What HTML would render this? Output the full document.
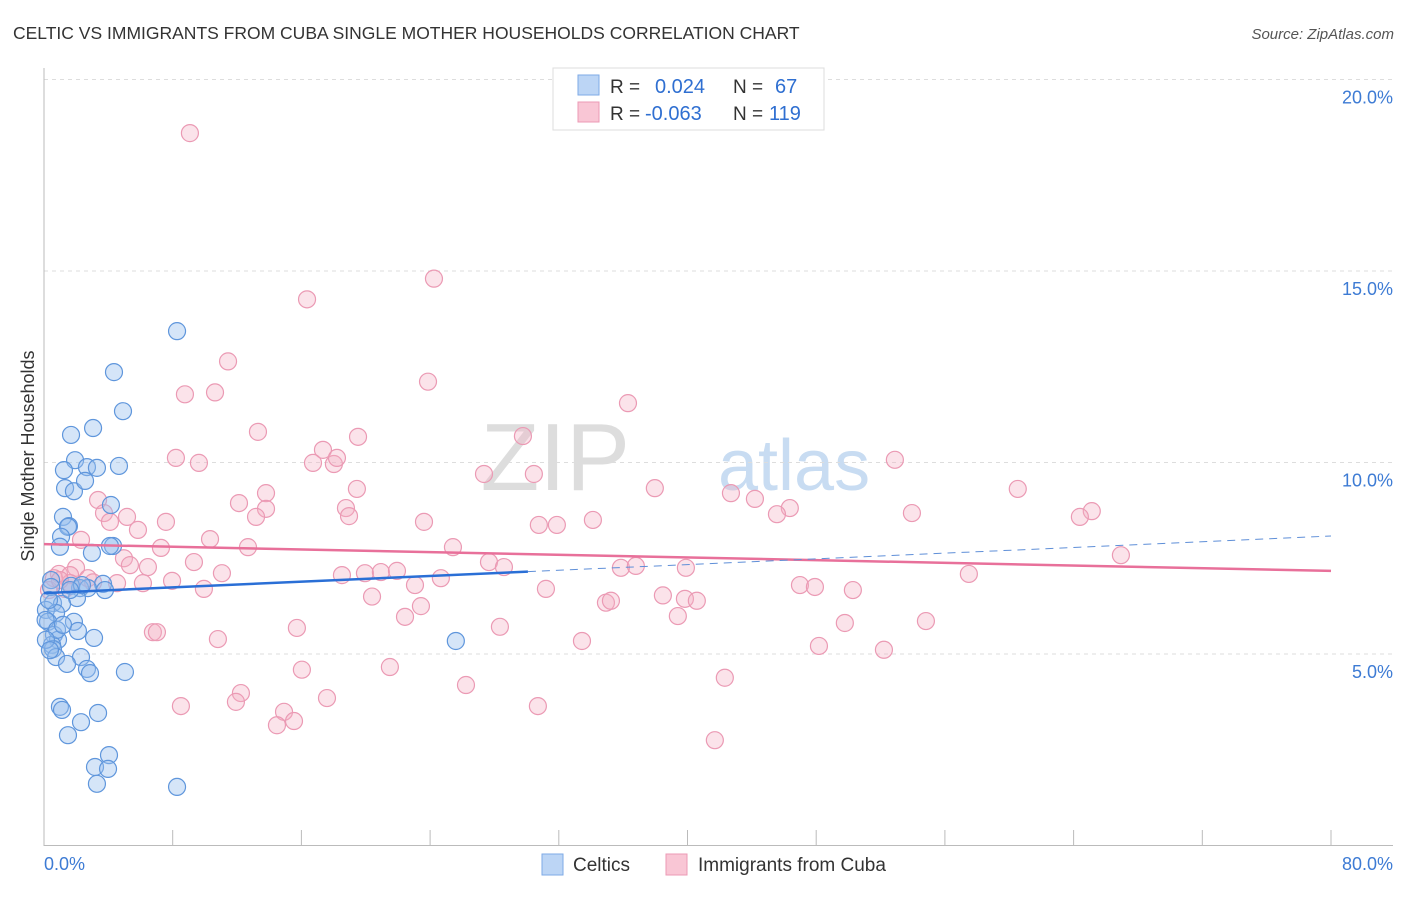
<!DOCTYPE html>
<html><head><meta charset="utf-8"><style>
body{margin:0;background:#fff;font-family:"Liberation Sans",sans-serif;}
svg text{font-family:"Liberation Sans",sans-serif;}
</style></head><body>
<svg id="chart" width="1406" height="892" xmlns="http://www.w3.org/2000/svg">
<text x="13" y="39" font-size="17.5" fill="#333">CELTIC VS IMMIGRANTS FROM CUBA SINGLE MOTHER HOUSEHOLDS CORRELATION CHART</text>
<text x="1394" y="39" font-size="15" fill="#555" font-style="italic" text-anchor="end">Source: ZipAtlas.com</text>
<text x="630" y="490" font-size="96" fill="#ddd" font-family="Liberation Serif" text-anchor="end">ZIP</text>
<text x="718" y="490" font-size="72" fill="#c8dcf2">atlas</text>
<g id="grid"></g>
<g id="axes"></g>
<g id="pts"></g>
<g id="trend"></g>
<text transform="translate(34,456) rotate(-90)" font-size="18" fill="#333" text-anchor="middle">Single Mother Households</text>
<g>
<rect x="553" y="68" width="271" height="62" fill="#fff" stroke="#ddd"/>
<rect x="578" y="75" width="21" height="20" fill="#bcd5f5" stroke="#7eaae6"/>
<rect x="578" y="102" width="21" height="20" fill="#f9c6d5" stroke="#ec9ab5"/>
<text x="610" y="93" font-size="19" fill="#333">R =</text><text x="655" y="93" font-size="20" fill="#2f6fd1">0.024</text>
<text x="733" y="93" font-size="19" fill="#333">N =</text><text x="775" y="93" font-size="20" fill="#2f6fd1">67</text>
<text x="610" y="120" font-size="19" fill="#333">R =</text><text x="645" y="120" font-size="20" fill="#2f6fd1">-0.063</text>
<text x="733" y="120" font-size="19" fill="#333">N =</text><text x="769" y="120" font-size="20" fill="#2f6fd1">119</text>
</g>
<g>
<rect x="542" y="854" width="21" height="21" fill="#bcd5f5" stroke="#7eaae6"/>
<text x="573" y="871" font-size="19" fill="#333">Celtics</text>
<rect x="666" y="854" width="21" height="21" fill="#f9c6d5" stroke="#ec9ab5"/>
<text x="698" y="871" font-size="19" fill="#333">Immigrants from Cuba</text>
</g>
</svg>
<script>
const yTicks=[5,10,15,20];
const yTickLabels=["5.0%","10.0%","15.0%","20.0%"];
const xTickLabels=["0.0%","80.0%"];
const celticX=[8.27,4.35,4.91,1.68,3.05,1.93,1.24,2.67,3.29,4.66,1.31,1.86,2.55,4.16,1.18,1.55,1.49,1.06,0.99,4.29,2.98,0.44,3.67,2.24,2.73,1.68,2.05,0.56,1.12,0.12,0.75,0.25,1.86,2.11,0.62,3.11,0.87,0.5,0.56,2.3,0.75,1.43,2.67,2.86,5.03,0.99,1.12,3.36,2.3,1.49,4.04,3.17,3.98,3.29,8.27,25.6,0.44,0.31,0.1,0.81,0.12,4.1,2.36,1.62,3.79,1.18,0.37];
const celticY=[13.43,12.36,11.34,10.72,10.9,10.06,9.8,9.88,9.86,9.91,9.33,9.25,9.52,8.89,8.58,8.34,8.32,8.06,7.8,7.82,7.64,6.93,6.83,6.72,6.72,6.78,6.46,6.33,6.31,6.15,6.07,5.84,5.84,5.6,5.5,5.42,5.37,5.24,5.13,4.92,4.92,4.74,4.61,4.5,4.53,3.62,3.54,3.46,3.22,2.88,2.36,2.05,2.0,1.61,1.53,5.34,6.75,6.41,5.89,5.63,5.37,7.82,6.8,6.67,6.67,5.76,5.1];
const cubaX=[9.07,24.24,16.35,11.44,23.87,8.76,10.63,36.3,13.3,29.77,19.52,17.34,8.2,9.63,16.72,18.02,18.21,52.89,27.35,30.45,37.97,60.53,19.45,13.8,42.7,44.19,12.12,3.36,18.77,13.8,46.36,45.56,53.95,65.13,64.39,18.96,13.18,3.73,5.16,4.1,7.58,5.84,30.76,31.88,34.12,23.62,2.3,10.32,7.27,12.68,25.42,66.94,4.97,9.32,27.66,28.59,5.34,6.46,1.99,18.52,19.95,20.94,21.94,11.06,35.86,36.79,39.9,57.49,0.93,1.62,2.73,0.62,1.62,3.05,4.54,6.15,7.96,23.06,24.67,46.99,47.92,50.28,31.2,9.94,20.39,38.47,39.84,40.58,34.93,35.24,23.43,22.44,39.4,28.34,15.72,54.82,49.78,6.77,7.02,10.81,33.44,48.17,52.21,16.03,21.5,42.32,26.23,12.24,8.51,11.93,17.59,14.92,30.7,15.54,14.48,41.7,1.31,0.31,0.99];
const cubaY=[18.6,14.8,14.26,12.64,12.11,11.78,11.83,11.55,10.8,10.69,10.67,10.33,10.12,9.99,9.99,9.96,10.12,10.07,9.7,9.7,9.33,9.31,9.31,9.2,9.2,9.05,8.94,9.02,8.81,8.79,8.81,8.65,8.68,8.73,8.58,8.6,8.58,8.68,8.58,8.45,8.45,8.24,8.37,8.37,8.5,8.45,7.98,8.0,7.77,7.79,7.79,7.58,7.5,7.4,7.4,7.27,7.32,7.27,7.25,7.06,7.11,7.14,7.17,7.11,7.25,7.3,7.25,7.09,7.09,7.06,6.98,6.98,6.85,6.87,6.85,6.85,6.91,6.8,6.98,6.8,6.75,6.67,6.7,6.7,6.5,6.53,6.44,6.39,6.34,6.39,6.25,5.97,5.99,5.71,5.68,5.86,5.81,5.57,5.57,5.39,5.34,5.21,5.11,4.59,4.66,4.38,4.19,3.98,3.64,3.75,3.85,3.49,3.64,3.25,3.14,2.75,6.7,6.67,6.93];
const celticTrend=[6.59,8.08];
const cubaTrend=[7.87,7.17];
const celticSolidEnd=30.08;

const NS="http://www.w3.org/2000/svg";
const X0=44,X1=1331,Y0=845.5;
function xs(v){return X0+v*(X1-X0)/80;}
function ys(v){return Y0-v*38.3;}
function mk(tag,attrs,parent){const e=document.createElementNS(NS,tag);for(const k in attrs)e.setAttribute(k,attrs[k]);parent.appendChild(e);return e;}
const grid=document.getElementById('grid'),axes=document.getElementById('axes'),pts=document.getElementById('pts'),trend=document.getElementById('trend');
yTicks.forEach((t,i)=>{
  const l=mk('line',{x1:44,x2:1393,y1:ys(t),y2:ys(t),stroke:'#ddd','stroke-dasharray':'4,4'},grid);
  
  
  const tx=mk('text',{x:1393,y:ys(t)+24,'font-size':18,fill:'#3d7bd4','text-anchor':'end'},grid);
  tx.textContent=yTickLabels[i];
  
  
});
const ya=mk('line',{x1:44,x2:44,y1:68,y2:846,stroke:'#bbb'},axes);


const xa=mk('line',{x1:44,x2:1393,y1:845.5,y2:845.5,stroke:'#bbb'},axes);


for(let i=0;i<=10;i++){
  const t=mk('line',{x1:xs(i*8),x2:xs(i*8),y1:830,y2:845,stroke:'#bbb'},axes);
  
  
}
const xl0=mk('text',{x:44,y:870,'font-size':18,fill:'#3d7bd4'},axes);
xl0.textContent=xTickLabels[0];


const xl1=mk('text',{x:1393,y:870,'font-size':18,fill:'#3d7bd4','text-anchor':'end'},axes);
xl1.textContent=xTickLabels[1];


cubaX.forEach((v,i)=>{
  const c=mk('circle',{cx:xs(v),cy:ys(cubaY[i]),r:8.5,fill:'rgba(244,175,196,0.35)',stroke:'#eb9ab4','stroke-width':1.2},pts);
  
  
});
celticX.forEach((v,i)=>{
  const c=mk('circle',{cx:xs(v),cy:ys(celticY[i]),r:8.5,fill:'rgba(150,190,238,0.4)',stroke:'#5f96dc','stroke-width':1.2},pts);
  
  
});
function ty(tr,x){return tr[0]+(tr[1]-tr[0])*x/80;}
const pl=mk('line',{x1:xs(0),y1:ys(cubaTrend[0]),x2:xs(80),y2:ys(cubaTrend[1]),stroke:'#e8709a','stroke-width':2.5},trend);


const bd=mk('line',{x1:xs(celticSolidEnd),y1:ys(ty(celticTrend,celticSolidEnd)),x2:xs(80),y2:ys(celticTrend[1]),stroke:'#5f8fd8','stroke-width':1,'stroke-dasharray':'8,6'},trend);


const bl=mk('line',{x1:xs(0),y1:ys(celticTrend[0]),x2:xs(celticSolidEnd),y2:ys(ty(celticTrend,celticSolidEnd)),stroke:'#2a6fd6','stroke-width':2.5},trend);


</script>
</body></html>
